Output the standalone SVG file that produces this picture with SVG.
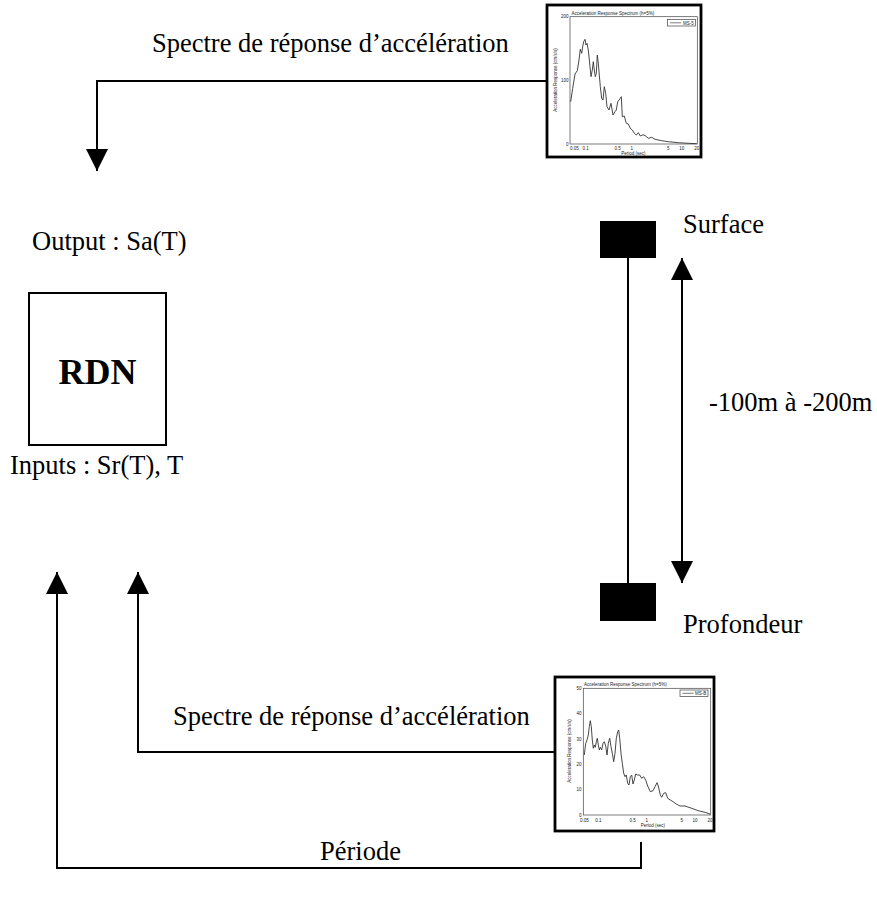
<svg xmlns="http://www.w3.org/2000/svg" width="877" height="897" viewBox="0 0 877 897">
<style>
.lbl{font-family:"Liberation Serif","Times New Roman",serif;font-size:26.5px;fill:#000}
.bold{font-weight:bold;font-size:36px}
.conn{fill:none;stroke:#000;stroke-width:2}
.box{fill:#fff;stroke:#000;stroke-width:2}
.chartbox{fill:#fff;stroke:#000;stroke-width:2.8}
.tiny{font-family:"Liberation Sans",Arial,sans-serif;font-size:4.5px;fill:#222}
.axis{fill:none;stroke:#444;stroke-width:0.7}
.curve{fill:none;stroke:#333;stroke-width:0.9}
</style>
<defs>
<marker id="ah" markerUnits="userSpaceOnUse" markerWidth="22" markerHeight="22" viewBox="0 0 20 20" refX="20" refY="10" orient="auto">
<path d="M0,0 L20,10 L0,20 Z" fill="#000"/>
</marker>
<marker id="ahs" markerUnits="userSpaceOnUse" markerWidth="22" markerHeight="22" viewBox="0 0 20 20" refX="20" refY="10" orient="auto-start-reverse">
<path d="M0,0 L20,10 L0,20 Z" fill="#000"/>
</marker>
</defs>
<rect width="877" height="897" fill="#fff"/>

<g id="connectors">
<path class="conn" d="M547,81 H97 V171" marker-end="url(#ah)"/>
<path class="conn" d="M555,752 H138 V572" marker-end="url(#ah)"/>
<path class="conn" d="M641,842 V868 H57 V572" marker-end="url(#ah)"/>
<path class="conn" d="M682,258 V583" marker-start="url(#ahs)" marker-end="url(#ahs)"/>
<line class="conn" x1="628" y1="257" x2="628" y2="584"/>
</g>

<g id="label-top-spectre"><text class="lbl" x="152" y="52">Spectre de réponse d’accélération</text></g>
<g id="label-output"><text class="lbl" x="32" y="250">Output : Sa(T)</text></g>
<g id="node-rdn">
<rect class="box" x="29" y="293" width="137" height="152"/>
<text class="lbl bold" x="97.5" y="384" text-anchor="middle">RDN</text>
</g>
<g id="label-inputs"><text class="lbl" x="10" y="474">Inputs : Sr(T), T</text></g>
<g id="label-bottom-spectre"><text class="lbl" x="173" y="725">Spectre de réponse d’accélération</text></g>
<g id="label-periode"><text class="lbl" x="320" y="860">Période</text></g>

<g id="node-surface">
<rect x="600" y="221" width="56" height="37" fill="#000"/>
<text class="lbl" x="683" y="233">Surface</text>
</g>
<g id="node-profondeur">
<rect x="600" y="583" width="56" height="38" fill="#000"/>
<text class="lbl" x="683" y="633">Profondeur</text>
</g>
<g id="label-depth"><text class="lbl" x="709" y="411">-100m à -200m</text></g>

<g id="chart-top">
<rect class="chartbox" x="547" y="5" width="154" height="152"/>
<text class="tiny" x="571.5" y="14.5">Acceleration Response Spectrum (h=5%)</text>
<rect class="axis" x="570" y="16.7" width="127.3" height="127.3"/>
<rect class="axis" x="667.5" y="19.5" width="28" height="6.5"/>
<line class="axis" x1="670" y1="22.8" x2="681" y2="22.8"/>
<text class="tiny" x="683" y="24.5">MS-5</text>
<text class="tiny" x="568.5" y="18.2" text-anchor="end">200</text>
<text class="tiny" x="568.5" y="81.5" text-anchor="end">100</text>
<text class="tiny" x="568.5" y="145.5" text-anchor="end">0</text>
<text class="tiny" transform="translate(557,80) rotate(-90)" text-anchor="middle">Acceleration Response (cm/s/s)</text>
<g class="tiny" text-anchor="middle">
<text x="574.3" y="150">0.05</text><text x="585.7" y="150">0.1</text><text x="617.7" y="150">0.5</text><text x="631.7" y="150">1</text><text x="668.3" y="150">5</text><text x="681.7" y="150">10</text><text x="696.7" y="150">20</text>
<text x="633.5" y="155">Period (sec)</text>
</g>
<polyline class="curve" points="570.7,101.7 572.7,88.3 575,74 577.3,70.7 579,60 580.3,49.3 581.7,53.3 582.7,46.7 583.7,41.7 585,39.3 586,45 587,43.3 588.3,50 590,66.7 591,76.7 592.3,70 593.3,61.7 594.3,70 595.3,76.7 596.3,73.3 597.3,55 598.3,63.3 599.3,75 600.3,86.7 601.7,98.3 603,100 604.3,86.7 605.7,93.3 607,106.7 609,110 611,103.3 613,115 615,111.7 616.3,110 617.7,101.7 619,100 620.3,98.3 621.3,96.7 622.3,116.7 624.3,116 626.3,123.3 628.3,124 630.3,128.3 632.3,130 634.3,133.3 636.3,135 638.3,132.7 640.3,136 643,134.7 645.7,136 648.3,138.3 651.7,137.3 655,139.3 661.7,140.7 668.3,141.7 678.3,142.7 688.3,143.3 696.7,143.7"/>
</g>

<g id="chart-bottom">
<rect class="chartbox" x="555" y="677" width="159" height="154"/>
<text class="tiny" x="584" y="686">Acceleration Response Spectrum (h=5%)</text>
<rect class="axis" x="583.3" y="688.3" width="127.4" height="126.7"/>
<rect class="axis" x="680" y="690" width="28" height="6.5"/>
<line class="axis" x1="682.5" y1="693.3" x2="693.5" y2="693.3"/>
<text class="tiny" x="695" y="695">MS-B</text>
<g class="tiny" text-anchor="end">
<text x="581.5" y="690">50</text><text x="581.5" y="715">40</text><text x="581.5" y="740.5">30</text><text x="581.5" y="765.5">20</text><text x="581.5" y="791">10</text><text x="581.5" y="816.5">0</text>
</g>
<text class="tiny" transform="translate(571,751) rotate(-90)" text-anchor="middle">Acceleration Response (cm/s/s)</text>
<g class="tiny" text-anchor="middle">
<text x="584.3" y="821.5">0.05</text><text x="598.3" y="821.5">0.1</text><text x="632.7" y="821.5">0.5</text><text x="646.7" y="821.5">1</text><text x="681.7" y="821.5">5</text><text x="695" y="821.5">10</text><text x="710" y="821.5">20</text>
<text x="653" y="827">Period (sec)</text>
</g>
<polyline class="curve" points="584.3,755 585.7,743.3 587,740 588.3,735 589.3,726.7 590.3,720.7 591.3,726.7 592.3,740 593.3,748.3 594.3,745 595.3,747.3 596.3,741.7 597.3,738.3 598.3,745 599.3,750 600.3,747.3 601.7,750 603,743.3 604.3,741.7 605.7,746 607,755 608.3,743.3 609.7,738.3 611,746.7 612.3,753.3 613.7,761.7 615,753.3 616.3,738.3 617.7,731.7 618.7,730 619.7,738.3 621,753.3 622.3,763.3 623.7,773.3 625,776.7 626.3,775 627.7,783.3 629,785 630.3,776.7 631.7,775 633,784 634.3,780 635.7,774 637.7,775 639.7,775 641.7,778.3 643.7,776.7 645.7,780 647.7,786 650.3,791.7 653,790.7 655,786.7 657,782.7 658.3,786 660.3,795 661.7,797.3 663.7,793.3 665.7,792.7 667.7,798.3 670.3,800 673,801.7 676.3,804 680,806 685,806 691.7,808.3 698.3,810.7 705,812.3 710,814"/>
</g>
</svg>
